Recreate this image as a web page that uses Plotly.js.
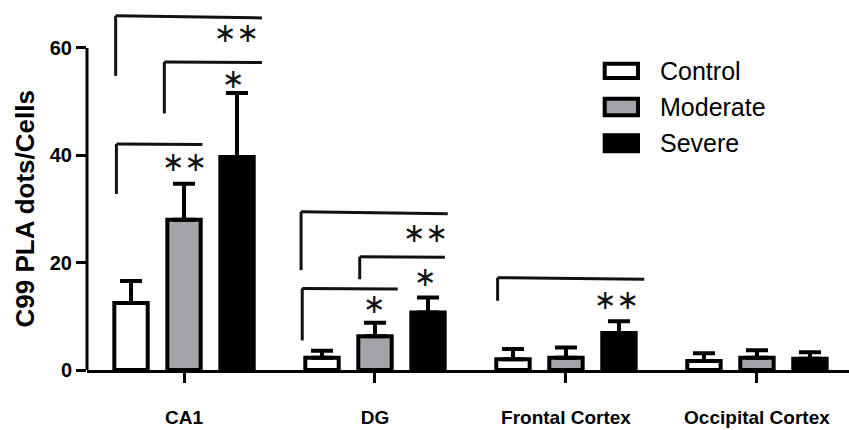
<!DOCTYPE html>
<html>
<head>
<meta charset="utf-8">
<script src="https://cdn.plot.ly/plotly-3.0.1.min.js"></script>
<style>html,body{margin:0;padding:0;background:#fff;}#chart{width:849px;height:430px;}</style>
</head>
<body>
<div id="chart"></div>
<script>
// ---- data ----
const categories = ['CA1', 'DG', 'Frontal Cortex', 'Occipital Cortex'];
const seriesNames = ['Control', 'Moderate', 'Severe'];
const controlMean = [12.5, 2.3, 2.0, 1.7];
const controlErr = [4.1, 1.3, 1.9, 1.4];
const moderateMean = [28.0, 6.3, 2.3, 2.3];
const moderateErr = [6.7, 2.5, 1.9, 1.4];
const severeMean = [39.7, 10.7, 6.9, 2.1];
const severeErr = [11.9, 2.8, 2.2, 1.2];
const yTickValues = [0, 20, 40, 60];
const yAxisTitle = 'C99 PLA dots/Cells';

// significance brackets (x in category-index units, y in data units)
const bracketLeft = [-0.358, -0.103, -0.354, 0.613, 0.920, 0.619, 1.642];
const bracketRight = [0.408, 0.408, 0.096, 1.381, 1.366, 1.119, 2.410];
const bracketTopLeft = [66.0, 57.4, 42.1, 29.5, 21.1, 15.2, 17.2];
const bracketTopRight = [65.6, 57.3, 42.0, 29.1, 21.0, 15.1, 16.9];
const bracketLegEnd = [54.8, 47.8, 32.8, 18.6, 16.9, 5.5, 12.9];
const starX = [0.277, 0.258, 0.0, 1.265, 1.265, 1.0, 2.266];
const starY = [62.8, 54.3, 38.9, 25.7, 17.4, 12.3, 13.2];
const starText = ['**', '*', '**', '**', '*', '*', '**'];

// ---- styles ----
const FONT = 'Liberation Sans, Arial, sans-serif';
const fills = ['#ffffff', '#a4a4a8', '#000000'];
const means = [controlMean, moderateMean, severeMean];
const errs = [controlErr, moderateErr, severeErr];

const traces = seriesNames.map((name, i) => ({
  type: 'bar',
  name: name,
  x: categories,
  y: means[i],
  marker: { color: fills[i], line: { color: '#000', width: 4 } },
  error_y: {
    type: 'data', symmetric: false,
    array: errs[i], arrayminus: errs[i].map(() => 0),
    color: '#000', thickness: 4, width: 11
  },
  showlegend: false,
  hoverinfo: 'skip'
}));

const shapes = [];
const annotations = [];

// y-axis line from 0 to top tick
shapes.push({
  type: 'line', xref: 'paper', yref: 'y',
  x0: 0, x1: 0, y0: yTickValues[0], y1: yTickValues[yTickValues.length - 1],
  line: { color: '#000', width: 3 }
});

// brackets and stars
for (let k = 0; k < bracketLeft.length; k++) {
  shapes.push({
    type: 'line', xref: 'x', yref: 'y',
    x0: bracketLeft[k], x1: bracketLeft[k], y0: bracketLegEnd[k], y1: bracketTopLeft[k],
    line: { color: '#111', width: 3 }
  });
  shapes.push({
    type: 'line', xref: 'x', yref: 'y',
    x0: bracketLeft[k], x1: bracketRight[k], y0: bracketTopLeft[k], y1: bracketTopRight[k],
    line: { color: '#111', width: 3 }
  });
  annotations.push({
    xref: 'x', yref: 'y', x: starX[k], y: starY[k],
    text: starText[k].replace(/\*/g, '\u2217'),
    showarrow: false, xanchor: 'center', yanchor: 'middle',
    font: { family: 'DejaVu Sans', size: 27, color: '#111' }
  });
}

// y-axis title
annotations.push({
  xref: 'paper', yref: 'y', x: -0.082, y: 30,
  text: yAxisTitle, textangle: -90, showarrow: false,
  xanchor: 'center', yanchor: 'middle',
  font: { family: FONT, size: 26, color: '#000', weight: 'bold' }
});

// manual legend (paper coordinates)
const legBoxX = [0.6794, 0.7231];
const legBoxY = [[0.8392, 0.8000], [0.7433, 0.6978], [0.6430, 0.5992]];
const legTextY = [0.8205, 0.7205, 0.6211];
seriesNames.forEach((name, i) => {
  shapes.push({
    type: 'rect', xref: 'paper', yref: 'paper',
    x0: legBoxX[0], x1: legBoxX[1], y0: legBoxY[i][1], y1: legBoxY[i][0],
    fillcolor: fills[i], line: { color: '#000', width: 4 }
  });
  annotations.push({
    xref: 'paper', yref: 'paper', x: 0.7493, y: legTextY[i],
    text: name, showarrow: false, xanchor: 'left', yanchor: 'middle',
    font: { family: FONT, size: 25, color: '#000' }
  });
});

const layout = {
  width: 849, height: 430,
  margin: { l: 87, r: 0, t: 5, b: 60 },
  paper_bgcolor: '#fff', plot_bgcolor: '#fff',
  barmode: 'group', bargap: 0.1675, bargroupgap: 0.37,
  showlegend: false,
  font: { family: FONT, color: '#000' },
  xaxis: {
    type: 'category', range: [-0.508, 3.482],
    showline: true, linewidth: 3, linecolor: '#000',
    ticks: 'outside', ticklen: 10, tickwidth: 3, tickcolor: '#000',
    tickfont: { family: FONT, size: 19, color: '#000', weight: 'bold' },
    ticklabelstandoff: 18,
    showgrid: false, zeroline: false
  },
  yaxis: {
    range: [0, 68], tickvals: yTickValues,
    showline: false, ticks: 'outside', ticklen: 10, tickwidth: 3, tickcolor: '#000',
    tickfont: { family: FONT, size: 20, color: '#000', weight: 'bold' },
    showgrid: false, zeroline: false
  },
  shapes: shapes,
  annotations: annotations
};

Plotly.newPlot('chart', traces, layout, { staticPlot: true, displayModeBar: false });
</script>
</body>
</html>
